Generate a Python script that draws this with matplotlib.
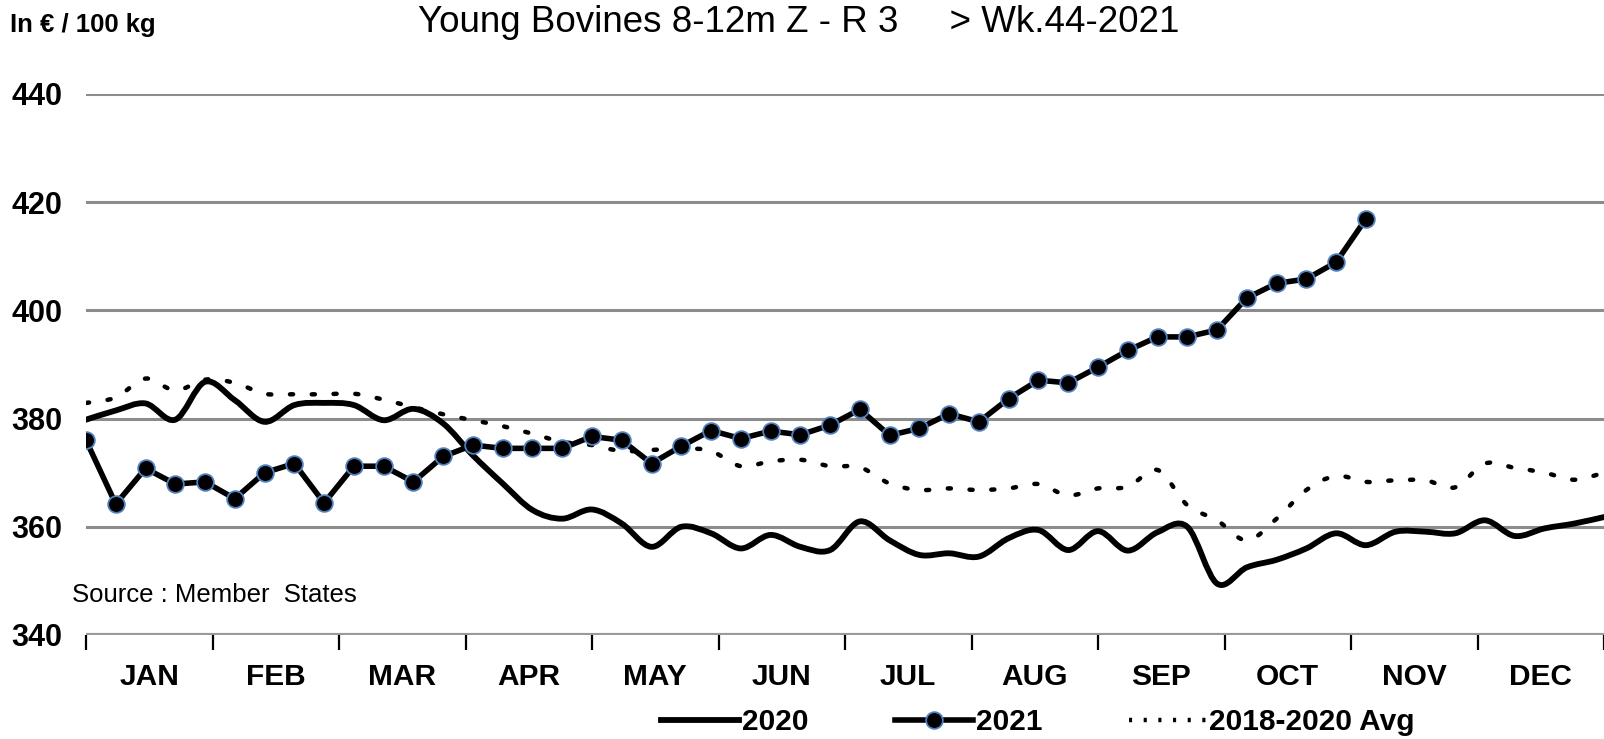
import matplotlib
matplotlib.use("Agg")
import matplotlib.pyplot as plt
from matplotlib.path import Path
from matplotlib.patches import PathPatch
from matplotlib.lines import Line2D
from matplotlib import font_manager
import numpy as np

# ---------------- data ----------------
months = ["JAN", "FEB", "MAR", "APR", "MAY", "JUN", "JUL", "AUG", "SEP", "OCT", "NOV", "DEC"]
weeks_2020 = list(range(1, 53))
price_2020 = [379.8, 381.5, 382.8, 379.8, 386.8, 383.4, 379.4, 382.5, 382.9, 382.5,
              379.7, 381.8, 379.1, 373.2, 368.0, 363.1, 361.5, 363.2, 360.6, 356.3,
              360.0, 358.8, 356.0, 358.5, 356.3, 355.7, 361.0, 357.5, 354.8, 355.1,
              354.5, 357.9, 359.4, 355.7, 359.2, 355.6, 359.0, 360.0, 349.5, 352.5,
              353.9, 356.0, 358.8, 356.6, 359.1, 359.1, 358.8, 361.2, 358.3, 359.7,
              360.6, 361.8]
weeks_2021 = list(range(1, 45))
price_2021 = [376.0, 364.2, 370.8, 367.9, 368.3, 365.2, 370.0, 371.7, 364.4, 371.2,
              371.2, 368.3, 373.0, 375.1, 374.5, 374.5, 374.5, 376.7, 376.0, 371.7,
              374.9, 377.8, 376.3, 377.7, 377.0, 378.8, 381.7, 376.9, 378.2, 380.9,
              379.4, 383.7, 387.1, 386.6, 389.5, 392.6, 395.1, 395.1, 396.4, 402.3,
              405.0, 405.8, 408.9, 416.9]
weeks_avg = list(range(1, 53))
price_avg = [382.9, 383.9, 387.4, 385.2, 387.2, 386.6, 384.6, 384.5, 384.5, 384.6,
             383.5, 382.1, 380.8, 379.7, 378.6, 377.2, 375.7, 375.1, 374.0, 374.2,
             374.5, 374.0, 371.2, 372.1, 372.4, 371.2, 371.0, 368.0, 366.8, 367.1,
             366.8, 367.1, 367.9, 365.8, 367.1, 367.4, 370.5, 364.0, 361.2, 357.5,
             361.5, 366.8, 369.4, 368.3, 368.6, 368.6, 367.3, 371.7, 370.9, 370.0,
             368.7, 370.0]
y_ticks = [340, 360, 380, 400, 420, 440]
title = "Young Bovines 8-12m Z - R 3     > Wk.44-2021"
unit_label = "In € / 100 kg"
source_label = "Source : Member  States"
legend_labels = ["2020", "2021", "2018-2020 Avg"]

# ---------------- fonts ----------------
names = {f.name for f in font_manager.fontManager.ttflist}
narrow = "Liberation Sans Narrow" if "Liberation Sans Narrow" in names else "Liberation Sans"
base = "Liberation Sans"
plt.rcParams["font.family"] = [base, "DejaVu Sans"]


def smooth_path(xs, ys):
    """Catmull-Rom style Bezier path through the points (Excel smoothed line)."""
    xs = np.asarray(xs, float)
    ys = np.asarray(ys, float)
    n = len(xs)
    verts = [(xs[0], ys[0])]
    codes = [Path.MOVETO]
    for i in range(n - 1):
        p0 = np.array([xs[max(i - 1, 0)], ys[max(i - 1, 0)]])
        p1 = np.array([xs[i], ys[i]])
        p2 = np.array([xs[i + 1], ys[i + 1]])
        p3 = np.array([xs[min(i + 2, n - 1)], ys[min(i + 2, n - 1)]])
        c1 = p1 + (p2 - p0) / 6.0
        c2 = p2 - (p3 - p1) / 6.0
        verts += [tuple(c1), tuple(c2), tuple(p2)]
        codes += [Path.CURVE4, Path.CURVE4, Path.CURVE4]
    return Path(verts, codes)


fig = plt.figure(figsize=(16.04, 7.39), dpi=100)
ax = fig.add_axes([86 / 1604, 104 / 739, 1 - 86 / 1604, 541 / 739])

ax.set_xlim(1, 52)
ax.set_ylim(340, 440)

# grid lines
for v in y_ticks[1:]:
    ax.axhline(v, color="#8c8c8c", lw=2.2, zorder=1)
ax.axhline(340, color="#9a9a9a", lw=3.0, zorder=1)

dot_style = (0, (0.7, 4.2))
# 2020 smoothed
ax.add_patch(PathPatch(smooth_path(weeks_2020, price_2020), fill=False,
                       edgecolor="black", lw=4.2, zorder=3, capstyle="round",
                       joinstyle="round"))
# avg dotted smoothed
ax.add_patch(PathPatch(smooth_path(weeks_avg, price_avg), fill=False,
                       edgecolor="black", lw=3.2, linestyle=dot_style,
                       zorder=2, capstyle="round"))
# 2021
ax.plot(weeks_2021, price_2021, color="black", lw=4.0, marker="o", ms=12,
        markerfacecolor="black", markeredgecolor="#4f7fbf", markeredgewidth=1.3,
        zorder=4, solid_joinstyle="round")

for s in ["left", "right", "top", "bottom"]:
    ax.spines[s].set_visible(False)

month_w = 51 / 12
bounds = [1 + i * month_w for i in range(13)]
centers = [1 + (i + 0.5) * month_w for i in range(12)]
ax.set_xticks(bounds)
ax.set_xticklabels([])
ax.tick_params(axis="x", which="major", length=11, width=1.6, color="black",
               direction="out")
ax.set_xticks(centers, minor=True)
ax.set_xticklabels(months, minor=True, fontsize=21.5, fontweight="bold",
                   family=[narrow, "DejaVu Sans"])
ax.tick_params(axis="x", which="minor", length=0, pad=20)

ax.set_yticks(y_ticks)
ax.set_yticklabels([str(v) for v in y_ticks], fontsize=22, fontweight="bold",
                   family=[narrow, "DejaVu Sans"])
ax.tick_params(axis="y", length=0, pad=17)

# texts
fig.text(418 / 1604, 1 - 22 / 739, title, fontsize=26.5, ha="left", va="center",
         family=[narrow, "DejaVu Sans"])
fig.text(10 / 1604, 1 - 25 / 739, unit_label, fontsize=18.5, fontweight="bold",
         ha="left", va="center", family=[narrow, "DejaVu Sans"])
fig.text(72 / 1604, 1 - 595 / 739, source_label, fontsize=18.5, ha="left",
         va="center", family=[base, "DejaVu Sans"])

handles = [
    Line2D([], [], color="black", lw=4.2),
    Line2D([], [], color="black", lw=4.0, marker="o", ms=12,
           markerfacecolor="black", markeredgecolor="#4f7fbf", markeredgewidth=1.3),
    Line2D([], [], color="black", lw=3.2, linestyle=(0, (0.7, 2.6))),
]
fig.legend(handles, legend_labels, loc="center", bbox_to_anchor=(1038 / 1604, 17 / 739),
           ncol=3, frameon=False, handlelength=2.6, handletextpad=0.1,
           columnspacing=2.9, prop={"family": [narrow, "DejaVu Sans"],
                                    "size": 21.5, "weight": "bold"})

fig.savefig("out.png", dpi=100)
